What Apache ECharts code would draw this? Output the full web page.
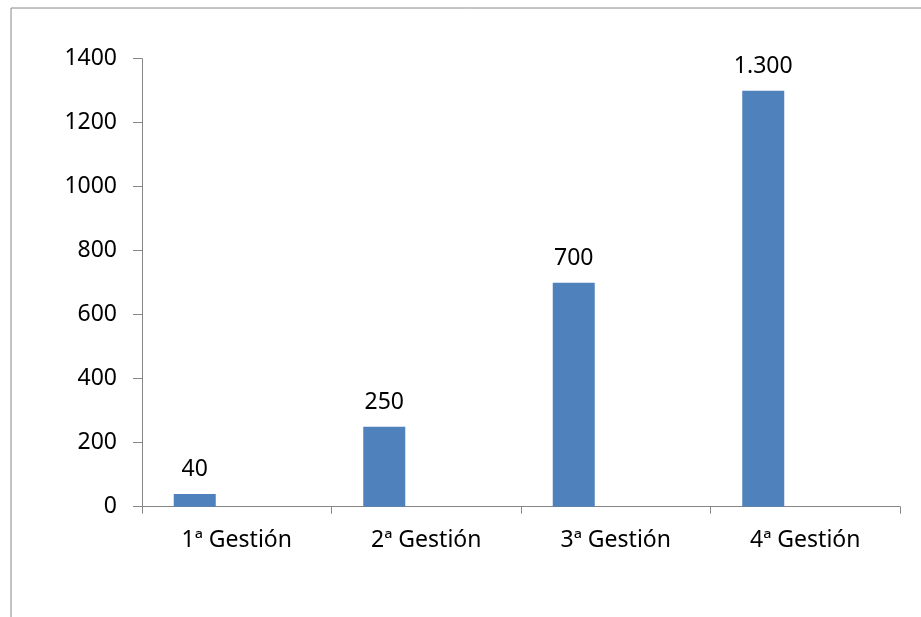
<!DOCTYPE html>
<html>
<head>
<meta charset="utf-8">
<script src="https://cdn.jsdelivr.net/npm/echarts@6/dist/echarts.min.js"></script>
<style>
  html, body { margin: 0; padding: 0; background: #fff; }
  #chart { width: 921px; height: 617px; }
</style>
</head>
<body>
<div id="chart"></div>
<script>
// Categories and values
const categories = ['1ª Gestión', '2ª Gestión', '3ª Gestión', '4ª Gestión'];
const values = [40, 250, 700, 1300];
const emptyValues = [null, null, null, null];

// Value axis ticks
const yMin = 0;
const yMax = 1400;
const yStep = 200;

const FONT = '"Noto Sans", sans-serif';
const GREY = '#868686';

// Spanish thousands separator: 1300 -> 1.300
function fmt(v) {
  return String(v).replace(/\B(?=(\d{3})+(?!\d))/g, '.');
}

const chart = echarts.init(document.getElementById('chart'), null, { renderer: 'canvas' });

chart.setOption({
  animation: false,
  backgroundColor: '#ffffff',
  textStyle: { fontFamily: FONT },
  graphic: [{
    type: 'rect',
    left: 8.5,
    top: 5.5,
    shape: { width: 1000, height: 1000 },
    style: { fill: 'none', stroke: '#888888', lineWidth: 1 },
    silent: true
  }],
  grid: {
    left: 142,
    right: 21,
    top: 58.7,
    bottom: 110.3,
    containLabel: false
  },
  xAxis: {
    type: 'category',
    data: categories,
    boundaryGap: true,
    axisLine: { show: true, lineStyle: { color: GREY, width: 1 } },
    axisTick: { show: true, length: 7, lineStyle: { color: GREY } },
    axisLabel: {
      color: '#000',
      fontSize: 23,
      fontFamily: FONT,
      margin: 22
    },
    splitLine: { show: false }
  },
  yAxis: {
    type: 'value',
    min: yMin,
    max: yMax,
    interval: yStep,
    axisLine: { show: true, lineStyle: { color: GREY, width: 1 } },
    axisTick: { show: true, length: 9, lineStyle: { color: GREY } },
    axisLabel: {
      color: '#000',
      fontSize: 23,
      fontFamily: FONT,
      margin: 25,
      formatter: v => String(v)
    },
    splitLine: { show: false }
  },
  series: [
    {
      type: 'bar',
      data: values,
      barWidth: 42,
      barGap: '0%',
      itemStyle: { color: '#4F81BD' },
      label: {
        show: true,
        position: 'top',
        distance: 13,
        color: '#000',
        fontSize: 23,
        fontFamily: FONT,
        formatter: p => fmt(p.value)
      }
    },
    { type: 'bar', data: emptyValues, barWidth: 42, barGap: '0%' },
    { type: 'bar', data: emptyValues, barWidth: 42, barGap: '0%' }
  ]
});
</script>
</body>
</html>
